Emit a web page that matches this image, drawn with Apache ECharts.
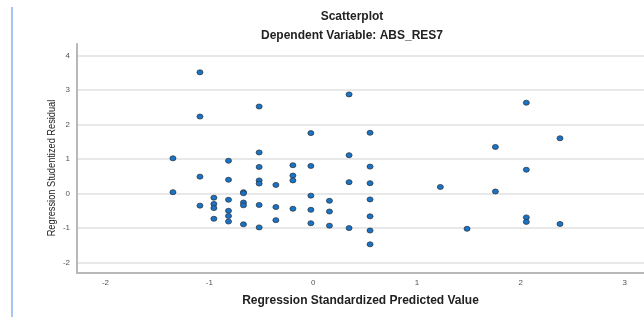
<!DOCTYPE html>
<html>
<head>
<meta charset="utf-8">
<script src="https://cdn.jsdelivr.net/npm/echarts@6/dist/echarts.min.js"></script>
<style>
html,body{margin:0;padding:0;background:#fff;}
#chart{width:644px;height:317px;}
</style>
</head>
<body>
<div id="chart"></div>
<script>
const titleText = "Scatterplot";
const subtitleText = "Dependent Variable: ABS_RES7";
const xAxisName = "Regression Standardized Predicted Value";
const yAxisName = "Regression Studentized Residual";
const xTicks = [-2, -1, 0, 1, 2, 3];
const yTicks = [-2, -1, 0, 1, 2, 3, 4];

const predicted = [
  -1.09, -1.09, -1.35, -1.35, -1.09, -1.09,
  -0.956, -0.956, -0.956, -0.956,
  -0.815, -0.815, -0.815, -0.815, -0.815, -0.815,
  -0.671, -0.671, -0.671, -0.671, -0.671,
  -0.52, -0.52, -0.52, -0.52, -0.52, -0.52, -0.52,
  -0.359, -0.359, -0.359,
  -0.195, -0.195, -0.195, -0.195,
  -0.022, -0.022, -0.022, -0.022, -0.022,
  0.157, 0.157, 0.157,
  0.346, 0.346, 0.346, 0.346,
  0.548, 0.548, 0.548, 0.548, 0.548, 0.548, 0.548,
  2.053, 2.377, 1.755, 2.053, 1.225, 1.755, 2.053, 2.053, 2.377, 1.482
];
const residual = [
  3.51, 2.23, 1.02, 0.04, 0.49, -0.35,
  -0.12, -0.30, -0.42, -0.73,
  0.95, 0.40, -0.18, -0.50, -0.65, -0.81,
  0.04, 0.01, -0.26, -0.34, -0.89,
  2.52, 1.19, 0.77, 0.38, 0.29, -0.33, -0.98,
  0.25, -0.39, -0.77,
  0.82, 0.52, 0.38, -0.44,
  1.75, 0.80, -0.06, -0.47, -0.86,
  -0.21, -0.52, -0.93,
  2.87, 1.11, 0.33, -1.00,
  1.76, 0.78, 0.30, -0.17, -0.66, -1.07, -1.47,
  2.63, 1.60, 1.35, 0.69, 0.19, 0.06, -0.69, -0.82, -0.88, -1.02
];

const points = predicted.map((x, i) => [x, residual[i]]);
const FONT = 'Liberation Sans, Arial, sans-serif';

const chart = echarts.init(document.getElementById('chart'), null, {renderer: 'canvas'});
chart.setOption({
  backgroundColor: '#ffffff',
  animation: false,
  title: [
    {text: titleText, left: 352, top: 11, padding: 0, textAlign: 'center',
     textStyle: {fontFamily: FONT, fontSize: 12, fontWeight: 'bold', color: '#222'}},
    {text: subtitleText, left: 352, top: 30, padding: 0, textAlign: 'center',
     textStyle: {fontFamily: FONT, fontSize: 12, fontWeight: 'bold', color: '#222'}}
  ],
  graphic: [
    {type: 'rect', shape: {x: 11, y: 7, width: 2, height: 310}, style: {fill: '#a9c3f2'}, silent: true},
    {type: 'text', x: 52, y: 168, rotation: Math.PI / 2, scaleX: 0.84, silent: true,
     style: {text: yAxisName, fontFamily: FONT, fontSize: 11, fill: '#222', align: 'center', verticalAlign: 'middle'}}
  ],
  grid: {left: 77, right: 0, top: 44, bottom: 44, containLabel: false},
  xAxis: {
    type: 'value',
    min: -2.274,
    max: 3.186,
    name: xAxisName,
    nameLocation: 'middle',
    nameGap: 22,
    nameTextStyle: {fontFamily: FONT, fontSize: 12, fontWeight: 'bold', color: '#222'},
    axisLine: {show: true, onZero: false, lineStyle: {color: '#b8b8b8', width: 2}},
    axisTick: {show: false, customValues: xTicks},
    axisLabel: {customValues: xTicks, margin: 6, fontSize: 8, color: '#555', fontFamily: FONT},
    splitLine: {show: false}
  },
  yAxis: {
    type: 'value',
    min: -2.30,
    max: 4.33,
    axisLine: {show: true, onZero: false, lineStyle: {color: '#b8b8b8', width: 2}},
    axisTick: {show: false, customValues: yTicks},
    axisLabel: {customValues: yTicks, margin: 7, fontSize: 8, color: '#555', fontFamily: FONT},
    splitLine: {show: true, lineStyle: {color: '#e0e0e0', width: 1.5}}
  },
  series: [{
    type: 'scatter',
    data: points,
    symbol: 'circle',
    symbolSize: [6, 5],
    itemStyle: {color: '#1874c8', borderColor: '#2e3a46', borderWidth: 0.8, opacity: 1}
  }]
});
</script>
</body>
</html>
